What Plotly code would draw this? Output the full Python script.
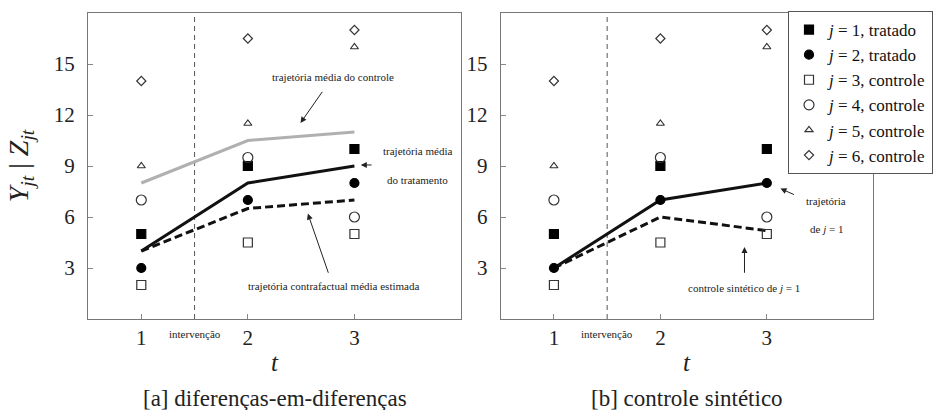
import plotly.graph_objects as go

# ---------------- data ----------------
t = [1, 2, 3]
j1_tratado = [5, 9, 10]
j2_tratado = [3, 7, 8]
j3_controle = [2, 4.5, 5]
j4_controle = [7, 9.5, 6]
j5_controle = [9, 11.5, 16]
j6_controle = [14, 16.5, 17]

# panel a lines
media_controle = [8, 10.5, 11]
media_tratamento = [4, 8, 9]
contrafactual = [4, 6.5, 7]

# panel b lines
trajetoria_j1 = [3, 7, 8]
sintetico_j1 = [3, 6, 5.2]

intervencao = 1.5
y_ticks = [3, 6, 9, 12, 15]
x_ticks = [1, 2, 3]

legend_names = ["<i>j</i> = 1, tratado", "<i>j</i> = 2, tratado",
                "<i>j</i> = 3, controle", "<i>j</i> = 4, controle",
                "<i>j</i> = 5, controle", "<i>j</i> = 6, controle"]

FONT = "Liberation Serif, DejaVu Serif, serif"
series = [j1_tratado, j2_tratado, j3_controle, j4_controle, j5_controle, j6_controle]
symbols = ["square", "circle", "square-open", "circle-open", "triangle-up-open", "diamond-open"]
sizes = [9, 9, 9, 10, 7, 7]
colors = ["black", "black", "#333", "#333", "#333", "#333"]

fig = go.Figure()

for panel, (xa, ya) in enumerate([("x", "y"), ("x2", "y2")]):
    fig.add_trace(go.Scatter(x=[intervencao, intervencao], y=[0, 18], mode="lines",
                             line=dict(color="#555", width=1, dash="5px,4px"),
                             xaxis=xa, yaxis=ya, showlegend=False, hoverinfo="skip"))
    if panel == 0:
        fig.add_trace(go.Scatter(x=t, y=media_controle, mode="lines",
                                 line=dict(color="#b0b0b0", width=3),
                                 xaxis=xa, yaxis=ya, showlegend=False))
        fig.add_trace(go.Scatter(x=t, y=contrafactual, mode="lines",
                                 line=dict(color="#111", width=3, dash="8px,4px"),
                                 xaxis=xa, yaxis=ya, showlegend=False))
        fig.add_trace(go.Scatter(x=t, y=media_tratamento, mode="lines",
                                 line=dict(color="#111", width=3),
                                 xaxis=xa, yaxis=ya, showlegend=False))
    else:
        fig.add_trace(go.Scatter(x=t, y=sintetico_j1, mode="lines",
                                 line=dict(color="#111", width=3, dash="8px,4px"),
                                 xaxis=xa, yaxis=ya, showlegend=False))
        fig.add_trace(go.Scatter(x=t, y=trajetoria_j1, mode="lines",
                                 line=dict(color="#111", width=3),
                                 xaxis=xa, yaxis=ya, showlegend=False))
    for k, s in enumerate(series):
        fig.add_trace(go.Scatter(x=t, y=s, mode="markers", name=legend_names[k],
                                 marker=dict(symbol=symbols[k], size=sizes[k], color=colors[k],
                                             line=dict(width=1.2, color=colors[k])),
                                 xaxis=xa, yaxis=ya, showlegend=(panel == 1)))

axis_common = dict(range=[0.5, 4], tickvals=x_ticks, ticks="inside", ticklen=5,
                   tickcolor="#888", showline=True, linecolor="#777", linewidth=1.2,
                   mirror=True, showgrid=False, zeroline=False,
                   tickfont=dict(family=FONT, size=21, color="#222"))
yaxis_common = dict(range=[0, 18], tickvals=y_ticks, ticks="inside", ticklen=5,
                    tickcolor="#888", showline=True, linecolor="#777", linewidth=1.2,
                    mirror=True, showgrid=False, zeroline=False,
                    tickfont=dict(family=FONT, size=21, color="#222"),
                    ticklabelstandoff=8)

ydom = [1 - 319 / 410, 1 - 13 / 410]
fig.update_layout(
    width=934, height=410,
    margin=dict(l=0, r=0, t=0, b=0, autoexpand=False),
    paper_bgcolor="white", plot_bgcolor="white",
    xaxis=dict(domain=[88 / 934, 461 / 934], anchor="y", **axis_common),
    yaxis=dict(domain=ydom, anchor="x",
               title=dict(text="<i>Y<sub>jt</sub></i> | <i>Z<sub>jt</sub></i>",
                          font=dict(family=FONT, size=28, color="#222"), standoff=16),
               **yaxis_common),
    xaxis2=dict(domain=[500.7 / 934, 873.3 / 934], anchor="y2", **axis_common),
    yaxis2=dict(domain=ydom, anchor="x2", **yaxis_common),
    legend=dict(x=788 / 934, y=1 - 11 / 410, xanchor="left", yanchor="top",
                bordercolor="#555", borderwidth=1, bgcolor="white",
                font=dict(family=FONT, size=17, color="#111"),
                itemwidth=30, tracegroupgap=0),
    showlegend=True,
)

small = dict(family=FONT, size=11, color="#222")
ann = []
ann.append(dict(x=2.80, y=14.26, xref="x", yref="y", text="trajetória média do controle",
                showarrow=False, font=small))
ann.append(dict(x=3.59, y=9.86, xref="x", yref="y", text="trajetória média",
                showarrow=False, font=small))
ann.append(dict(x=3.59, y=8.2, xref="x", yref="y", text="do tratamento",
                showarrow=False, font=small))
ann.append(dict(x=2.80, y=1.94, xref="x", yref="y", text="trajetória contrafactual média estimada",
                showarrow=False, font=small))
for (hx, hy, tx, ty) in [(2.494, 11.53, 2.708, 13.45), (3.06, 9.06, 3.175, 9.06),
                         (2.563, 6.2, 2.76, 2.63)]:
    ann.append(dict(x=hx, y=hy, ax=tx, ay=ty, xref="x", yref="y", axref="x", ayref="y",
                    text="", showarrow=True, arrowhead=2, arrowsize=1.2, arrowwidth=1,
                    arrowcolor="#222"))
ann.append(dict(x=3.56, y=6.92, xref="x2", yref="y2", text="trajetória",
                showarrow=False, font=small))
ann.append(dict(x=3.56, y=5.29, xref="x2", yref="y2", text="de <i>j</i> = 1",
                showarrow=False, font=small))
ann.append(dict(x=2.79, y=1.85, xref="x2", yref="y2", text="controle sintético de <i>j</i> = 1",
                showarrow=False, font=small))
for (hx, hy, tx, ty) in [(3.128, 7.67, 3.269, 7.28), (2.79, 4.24, 2.79, 2.63)]:
    ann.append(dict(x=hx, y=hy, ax=tx, ay=ty, xref="x2", yref="y2", axref="x2", ayref="y2",
                    text="", showarrow=True, arrowhead=2, arrowsize=1.2, arrowwidth=1,
                    arrowcolor="#222"))
for xr in ["x", "x2"]:
    ann.append(dict(x=intervencao, y=1 - 334 / 410, xref=xr, yref="paper", text="intervenção",
                    xanchor="center", yanchor="middle", showarrow=False, font=small))
# axis titles "t"
for cx in [(88 + 461) / 2 / 934, (500.7 + 873.3) / 2 / 934]:
    ann.append(dict(x=cx, y=1 - 362 / 410, xref="paper", yref="paper", text="<i>t</i>",
                    xanchor="center", yanchor="middle", showarrow=False,
                    font=dict(family=FONT, size=25, color="#222")))
ann.append(dict(x=(88 + 461) / 2 / 934, y=1 - 398 / 410, xref="paper", yref="paper",
                xanchor="center", yanchor="middle",
                text="[a] diferenças-em-diferenças", showarrow=False,
                font=dict(family=FONT, size=23, color="#222")))
ann.append(dict(x=(500.7 + 873.3) / 2 / 934, y=1 - 398 / 410, xref="paper", yref="paper",
                xanchor="center", yanchor="middle",
                text="[b] controle sintético", showarrow=False,
                font=dict(family=FONT, size=23, color="#222")))
fig.update_layout(annotations=ann)

fig.write_html("out.html")
